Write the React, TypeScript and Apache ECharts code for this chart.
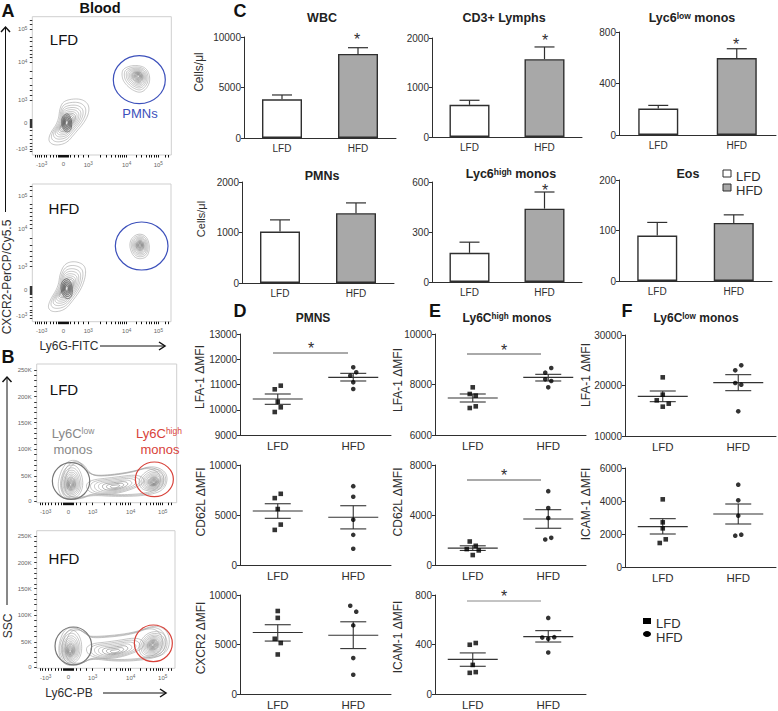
import React, { useEffect, useRef } from "react";
import * as echarts from "echarts";

const FONT = "'Liberation Sans', Arial, sans-serif";
const INK = "#2f2f2f";

const groups = ["LFD", "HFD"];

// ---- C: bar values, [LFD, HFD] ----
const wbcMeans = [3830, 8320];
const wbcUpper = [4260, 8940];
const cd3Means = [650, 1572];
const cd3Upper = [742, 1819];
const lowMeans = [205, 598];
const lowUpper = [230, 670];
const pmnMeans = [1020, 1382];
const pmnUpper = [1250, 1586];
const highMeans = [175, 440];
const highUpper = [239, 540];
const eosMeans = [90, 115];
const eosUpper = [116, 131];

// ---- D/E/F: dot values; columns give the dot's side-step within its group ----
const dLfaLfd = [10954, 10809, 10320, 10096, 9911];
const dLfaHfd = [11680, 11482, 11350, 11086, 10822];
const dLfaSummary = [[10426, 10624, 10215], [11284, 11442, 11139]];
const dCd62Lfd = [7119, 6689, 5596, 4040, 3510];
const dCd62Hfd = [7881, 6821, 4536, 3013, 1623];
const dCd62Summary = [[5397, 6126, 4669], [4768, 5927, 3609]];
const dCxcLfd = [8383, 7690, 5578, 5149, 3993];
const dCxcHfd = [8911, 8317, 6931, 3630, 1947];
const dCxcSummary = [[6205, 6997, 5347], [5941, 7294, 4587]];

const eLfaLfd = [7888, 7624, 7558, 7135, 7069];
const eLfaHfd = [8653, 8469, 8205, 8139, 7888];
const eLfaSummary = [[7465, 7624, 7307], [8284, 8403, 8139]];
const eCd62Lfd = [1881, 1536, 1272, 1166, 795];
const eCd62Hfd = [5907, 4556, 3762, 2172, 2040];
const eCd62Summary = [[1351, 1536, 1166], [3682, 4424, 2940]];
const eIcamLfd = [412, 398, 235, 177, 171];
const eIcamHfd = [615, 456, 459, 446, 335];
const eIcamSummary = [[280, 332, 224], [464, 512, 420]];

const fLfaLfd = [21617, 18185, 17063, 16403, 15809];
const fLfaHfd = [23993, 23003, 20495, 20165, 14884];
const fLfaSummary = [[17855, 18911, 16799], [20561, 22145, 18977]];
const fIcamLfd = [4101, 2707, 2343, 1677, 1455];
const fIcamHfd = [4990, 4040, 3111, 1960, 1899];
const fIcamSummary = [[2444, 2929, 2000], [3212, 3818, 2606]];

const colsD1Lfd = [1, -1, 0, 1, -1];
const colsD1Hfd = [0, 1, -1, 0, 0];
const colsD2Lfd = [1, -1, 0, 1, -1];
const colsD2Hfd = [0, 0, 0, 0, 0];
const colsD3Lfd = [0, 0, -1, 1, 0];
const colsD3Hfd = [-1, 1, 0, 0, 0];
const colsE1Lfd = [0, -1, 1, 1, -1];
const colsE1Hfd = [1, -1, -1, 1, 0];
const colsE2Lfd = [-1, 1, -2, 2, 0];
const colsE2Hfd = [0, 0, 0, 1, -1];
const colsE3Lfd = [1, -1, 0, 1, -1];
const colsE3Hfd = [0, -2, 2, 0, 0];
const colsF1Lfd = [0, 0, -2, 2, 0];
const colsF1Hfd = [1, -1, -1, 1, 0];
const colsF2Lfd = [0, 0, 0, 1, -1];
const colsF2Hfd = [0, 0, 0, 1, -1];

// ---- A/B: flow-cytometry axes (channel positions) ----
const aTicksX = [125, 190, 265, 380, 475];
const aTicksXMinor = [105, 112, 118, 132, 140, 150, 160, 168, 174, 178, 181, 184, 187, 193, 196, 199, 202, 206, 212, 222, 235, 250, 300, 318, 335, 346, 355, 362, 368, 374, 408, 425, 438, 448, 455, 462, 468, 495, 505];
const aTicksY = [88, 186, 300, 370, 447];
const aTicksYMinor = [60, 72, 112, 125, 138, 150, 162, 172, 215, 235, 255, 270, 285, 358, 361, 364, 367, 373, 376, 379, 382, 392, 405, 418, 430, 438, 455];
const bTicksX = [137, 205, 278, 392, 488];
const bTicksXMinor = [120, 128, 145, 155, 165, 175, 184, 190, 194, 197, 200, 202, 208, 210, 213, 216, 220, 228, 240, 258, 312, 332, 348, 360, 368, 376, 384, 420, 438, 450, 460, 468, 475, 482, 505, 515];
const bTicksY = [60, 140, 218, 298, 378, 453];
const bTicksYMinor = [76, 92, 108, 124, 156, 172, 188, 204, 234, 250, 266, 282, 314, 330, 346, 362, 394, 409, 424, 439];
const logLabels = ["-10{s|3}", "0", "10{s|3}", "10{s|4}", "10{s|5}"];
const logLabelsY = ["10{s|5}", "10{s|4}", "10{s|3}", "0", "-10{s|3}"];
const sscLabels = ["250K", "200K", "150K", "100K", "50K", "0"];

// ---- A/B: contour outlines and gates, in channel positions ----
const denseLevels = [1, 0.86, 0.74, 0.64, 0.55, 0.47, 0.4, 0.34, 0.28, 0.23, 0.18, 0.13, 0.08];
const outerLevels = [1, 0.94, 0.88];
const bridgeLevels = [1, 0.86, 0.72, 0.58, 0.44, 0.3, 0.16];
const coreLevels = [1, 0.8, 0.62, 0.46, 0.3];

const aTopLymph = [[145, 425], [150, 400], [175, 365], [180, 320], [195, 300], [240, 295], [265, 310], [268, 335], [255, 365], [225, 400], [200, 430], [165, 437]];
const aTopCore = [[186, 350], [203, 338], [216, 360], [214, 392], [197, 398], [184, 375]];
const aTopPmn = [[370, 205], [400, 195], [435, 200], [450, 225], [448, 255], [425, 280], [395, 270], [370, 245], [365, 222]];
const aBotLymph = [[143, 425], [150, 400], [175, 360], [180, 320], [195, 290], [225, 283], [255, 295], [258, 325], [245, 365], [220, 400], [195, 430], [160, 437]];
const aBotCore = [[184, 345], [203, 332], [218, 358], [216, 392], [197, 398], [182, 372]];
const aBotPmn = [[393, 215], [415, 200], [440, 208], [450, 240], [443, 270], [420, 278], [400, 270], [388, 240]];
const bTopOuter = [[262, 370], [300, 378], [400, 365], [460, 345], [505, 370], [495, 420], [440, 437], [350, 440], [270, 435], [240, 448], [185, 447], [170, 400], [195, 335], [235, 328]];
const bTopLeft = [[190, 440], [178, 400], [195, 350], [225, 342], [245, 370], [250, 410], [235, 440], [210, 447]];
const bTopBridge = [[255, 392], [340, 382], [420, 372], [440, 400], [350, 434], [265, 432]];
const bTopRight = [[415, 385], [450, 355], [485, 360], [500, 385], [490, 415], [450, 425], [420, 415]];
const bBotOuter = [[270, 364], [400, 352], [470, 324], [510, 352], [505, 412], [440, 432], [350, 437], [270, 427], [240, 447], [190, 449], [172, 402], [190, 340], [225, 332], [255, 352]];
const bBotLeft = [[190, 437], [175, 397], [195, 347], [225, 340], [245, 372], [245, 417], [225, 442], [205, 447]];
const bBotBridge = [[255, 385], [340, 376], [420, 362], [440, 395], [350, 430], [265, 424]];
const bBotRight = [[415, 382], [445, 347], [490, 347], [505, 382], [490, 417], [445, 427], [420, 417]];

const option: any = {
  animation: false,
  backgroundColor: "#fff",
  textStyle: { fontFamily: FONT },
  title: [],
  grid: [],
  xAxis: [],
  yAxis: [],
  series: [],
  graphic: { elements: [] },
};
const gfx: any[] = option.graphic.elements;

function label(text: string, x: number, y: number, size: number, extra: any = {}, rich?: any, rotation = 0) {
  gfx.push({
    type: "text",
    x,
    y,
    rotation,
    silent: true,
    style: {
      text,
      fontFamily: FONT,
      fontSize: size,
      fill: INK,
      align: "center",
      verticalAlign: "middle",
      rich,
      ...extra,
    },
  });
}

function vLabel(text: string, x: number, y: number, size: number) {
  label(text, x, y, size, {}, undefined, Math.PI / 2);
}

function star(x: number, y: number) {
  label("*", x, y + 3, 16);
}

function bracket(x1: number, x2: number, y: number, color = "#555") {
  gfx.push({
    type: "line",
    silent: true,
    shape: { x1, y1: y, x2, y2: y },
    style: { stroke: color, lineWidth: 1 },
  });
}

function supTitle(text: string, x: number, y: number, size = 12.5) {
  option.title.push({
    text,
    left: x,
    top: y - size / 2 - 1,
    textAlign: "center",
    padding: 0,
    textStyle: {
      fontFamily: FONT,
      fontSize: size,
      fontWeight: "bold",
      color: "#222",
      rich: {
        b: { fontFamily: FONT, fontSize: size, fontWeight: "bold", color: "#222" },
        s: { fontFamily: FONT, fontSize: size * 0.68, fontWeight: "bold", color: "#222", verticalAlign: "top", padding: [0, 0, 3, 0] },
      },
    },
  });
}

function baseAxes(box: number[], yMin: number, yMax: number, interval: number, xSize: number) {
  const idx = option.grid.length;
  option.grid.push({ left: box[0], top: box[1], width: box[2] - box[0], height: box[3] - box[1], containLabel: false });
  option.xAxis.push({
    gridIndex: idx,
    type: "category",
    data: groups,
    axisLine: { lineStyle: { color: INK, width: 1 } },
    axisTick: { alignWithLabel: true, length: 3, lineStyle: { color: INK } },
    axisLabel: { color: INK, fontSize: xSize, fontFamily: FONT, margin: 5 },
  });
  option.yAxis.push({
    gridIndex: idx,
    type: "value",
    min: yMin,
    max: yMax,
    interval,
    splitLine: { show: false },
    axisLine: { show: true, lineStyle: { color: INK, width: 1 } },
    axisTick: { show: true, length: 3, lineStyle: { color: INK } },
    axisLabel: { color: INK, fontSize: 10, fontFamily: FONT, margin: 3, showMinLabel: true, showMaxLabel: true, formatter: (v: number) => String(v) },
  });
  return idx;
}

function barPanel(box: number[], max: number, interval: number, means: number[], upper: number[]) {
  const idx = baseAxes(box, 0, max, interval, 10);
  option.series.push({
    type: "custom",
    xAxisIndex: idx,
    yAxisIndex: idx,
    z: 1,
    data: means.map((m, i) => [groups[i], m, upper[i]]),
    renderItem: (_: any, api: any) => {
      const base = api.coord([api.value(0), api.value(1)]);
      const top = api.coord([api.value(0), api.value(2)]);
      const s = { stroke: INK, lineWidth: 1.2 };
      return {
        type: "group",
        children: [
          { type: "line", shape: { x1: base[0], y1: base[1], x2: top[0], y2: top[1] }, style: s },
          { type: "line", shape: { x1: top[0] - 10, y1: top[1], x2: top[0] + 10, y2: top[1] }, style: s },
        ],
      };
    },
  });
  option.series.push({
    type: "bar",
    xAxisIndex: idx,
    yAxisIndex: idx,
    barWidth: 40,
    z: 2,
    data: means.map((v, i) => ({
      value: v,
      itemStyle: { color: i === 0 ? "#ffffff" : "#a8a8a8", borderColor: INK, borderWidth: 1.4 },
    })),
  });
}

function dotPanel(
  box: number[],
  yMin: number,
  yMax: number,
  interval: number,
  lfd: number[],
  lfdCols: number[],
  hfd: number[],
  hfdCols: number[],
  summary: number[][],
) {
  const idx = baseAxes(box, yMin, yMax, interval, 11.5);
  option.series.push({
    type: "custom",
    xAxisIndex: idx,
    yAxisIndex: idx,
    data: summary.map((s, i) => [groups[i], ...s]),
    renderItem: (_: any, api: any) => {
      const m = api.coord([api.value(0), api.value(1)]);
      const hi = api.coord([api.value(0), api.value(2)]);
      const lo = api.coord([api.value(0), api.value(3)]);
      const s = { stroke: "#333", lineWidth: 1.1 };
      const h = (y: number, half: number) => ({
        type: "line",
        shape: { x1: m[0] - half, y1: y, x2: m[0] + half, y2: y },
        style: s,
      });
      return {
        type: "group",
        children: [
          h(m[1], 25),
          h(hi[1], 13),
          h(lo[1], 13),
          { type: "line", shape: { x1: m[0], y1: hi[1], x2: m[0], y2: lo[1] }, style: s },
        ],
      };
    },
  });
  const dots = (vals: number[], cols: number[], g: string, symbol: string, size: number) => ({
    type: "scatter",
    xAxisIndex: idx,
    yAxisIndex: idx,
    symbol,
    symbolSize: size,
    itemStyle: { color: "#000" },
    data: vals.map((v, i) => ({ value: [g, v], symbolOffset: [cols[i] * 3, 0] })),
  });
  option.series.push(dots(lfd, lfdCols, "LFD", "rect", 4.6));
  option.series.push(dots(hfd, hfdCols, "HFD", "circle", 4.6));
}

// rounds a closed outline by repeated corner cutting
function rounded(points: number[][]) {
  let pts = points;
  for (let pass = 0; pass < 3; pass++) {
    const next: number[][] = [];
    pts.forEach((p, i) => {
      const q = pts[(i + 1) % pts.length];
      next.push([p[0] * 0.75 + q[0] * 0.25, p[1] * 0.75 + q[1] * 0.25]);
      next.push([p[0] * 0.25 + q[0] * 0.75, p[1] * 0.25 + q[1] * 0.75]);
    });
    pts = next;
  }
  return pts;
}

function flowPanel(
  box: number[],
  range: number[],
  xTicks: number[],
  xMinor: number[],
  xLabels: string[],
  yTicks: number[],
  yMinor: number[],
  yLabels: string[],
  contours: any[],
  gates: any[],
) {
  const idx = option.grid.length;
  option.grid.push({
    left: box[0],
    top: box[1],
    width: box[2],
    height: box[3],
    show: true,
    borderColor: "#cfcfcf",
    borderWidth: 1,
    backgroundColor: "#fff",
  });
  const xMap = new Map(xTicks.map((t, i) => [t, xLabels[i]]));
  const yMap = new Map(yTicks.map((t, i) => [t, yLabels[i]]));
  const rich = { s: { fontSize: 4.6, fontFamily: FONT, color: "#666", verticalAlign: "top", padding: [0, 0, 2, 0] } };
  const labelStyle = { color: "#666", fontSize: 6, fontFamily: FONT, rich };
  option.xAxis.push({
    gridIndex: idx,
    type: "value",
    min: range[0],
    max: range[1],
    splitLine: { show: false },
    axisLine: { show: false },
    axisTick: { show: true, length: 2.5, customValues: [...xTicks, ...xMinor], lineStyle: { color: "#111", width: 1 } },
    axisLabel: { ...labelStyle, margin: 6, customValues: xTicks, formatter: (v: number) => xMap.get(v) ?? "" },
  });
  option.yAxis.push({
    gridIndex: idx,
    type: "value",
    inverse: true,
    min: range[2],
    max: range[3],
    splitLine: { show: false },
    axisLine: { show: false },
    axisTick: { show: true, length: 2.5, customValues: [...yTicks, ...yMinor], lineStyle: { color: "#333", width: 1 } },
    axisLabel: { ...labelStyle, margin: 5, customValues: yTicks, formatter: (v: number) => yMap.get(v) ?? "" },
  });
  option.series.push({
    type: "custom",
    xAxisIndex: idx,
    yAxisIndex: idx,
    z: 2,
    silent: true,
    data: contours.map((c) => c.center),
    renderItem: (params: any, api: any) => {
      const c = contours[params.dataIndex];
      const ctr = api.coord(c.center);
      const pts = rounded(c.outline.map((p: number[]) => api.coord(p)));
      return {
        type: "group",
        children: c.levels.map((f: number) => ({
          type: "polygon",
          shape: {
            points: pts.map((p: number[]) => [ctr[0] + (p[0] - ctr[0]) * f, ctr[1] + (p[1] - ctr[1]) * f]),
          },
          style: { fill: "none", stroke: c.stroke ?? (f < 0.45 ? "#777777" : "#a0a0a0"), lineWidth: c.stroke ? 0.8 : 0.6 },
        })),
      };
    },
  });
  option.series.push({
    type: "custom",
    xAxisIndex: idx,
    yAxisIndex: idx,
    z: 3,
    silent: true,
    data: gates.map((g) => g.slice(0, 4)),
    renderItem: (params: any, api: any) => {
      const c = api.coord([api.value(0), api.value(1)]);
      const sz = api.size([api.value(2), api.value(3)]);
      return {
        type: "ellipse",
        shape: { cx: c[0], cy: c[1], rx: Math.abs(sz[0]), ry: Math.abs(sz[1]) },
        style: { fill: "none", stroke: gates[params.dataIndex][4], lineWidth: 1.2 },
      };
    },
  });
}

function arrowUp(x: number, y1: number, y2: number) {
  gfx.push({ type: "line", silent: true, shape: { x1: x, y1, x2: x, y2 }, style: { stroke: "#111", lineWidth: 1 } });
  gfx.push({
    type: "polyline",
    silent: true,
    shape: { points: [[x - 4.5, y1 + 5], [x, y1], [x + 4.5, y1 + 5]] },
    style: { stroke: "#111", lineWidth: 1.5, fill: "none" },
  });
}

function arrowRight(x1: number, x2: number, y: number) {
  gfx.push({ type: "line", silent: true, shape: { x1, y1: y, x2, y2: y }, style: { stroke: "#111", lineWidth: 1 } });
  gfx.push({
    type: "polyline",
    silent: true,
    shape: { points: [[x2 - 6, y - 4], [x2, y], [x2 - 6, y + 4]] },
    style: { stroke: "#111", lineWidth: 1.5, fill: "none" },
  });
}

// ---- A ----
const BLUE = "#3c50bb";
const RED = "#d8423a";
const GREY = "#777777";
const CORE = "#5a5a5a";
flowPanel([32.3, 16.7, 139, 138.3], [97, 514, 50, 465], aTicksX, aTicksXMinor, logLabels, aTicksY, aTicksYMinor, logLabelsY,
  [
    { outline: aTopLymph, center: [200, 368], levels: denseLevels },
    { outline: aTopCore, center: [200, 368], levels: coreLevels, stroke: CORE },
    { outline: aTopPmn, center: [415, 228], levels: denseLevels },
  ],
  [[418, 239, 78, 72, BLUE]],
);
flowPanel([32.3, 184, 138.7, 137.7], [97, 513, 52, 465], aTicksX, aTicksXMinor, logLabels, aTicksY, aTicksYMinor, logLabelsY,
  [
    { outline: aBotLymph, center: [200, 365], levels: denseLevels },
    { outline: aBotCore, center: [200, 365], levels: coreLevels, stroke: CORE },
    { outline: aBotPmn, center: [420, 235], levels: denseLevels },
  ],
  [[425, 238, 79, 72, BLUE]],
);
// ---- B ----
flowPanel([36.7, 364, 140, 138.7], [110, 530, 42, 458], bTicksX, bTicksXMinor, logLabels, bTicksY, bTicksYMinor, sscLabels,
  [
    { outline: bTopOuter, center: [335, 395], levels: outerLevels },
    { outline: bTopBridge, center: [345, 410], levels: bridgeLevels },
    { outline: bTopLeft, center: [212, 405], levels: denseLevels },
    { outline: bTopRight, center: [462, 397], levels: denseLevels },
  ],
  [[213, 393, 56, 55, GREY], [463, 388, 57, 52, RED]],
);
flowPanel([36.7, 530.7, 138.3, 137.6], [110, 525, 44, 457], bTicksX, bTicksXMinor, logLabels, bTicksY, bTicksYMinor, sscLabels,
  [
    { outline: bBotOuter, center: [335, 395], levels: outerLevels },
    { outline: bBotBridge, center: [345, 407], levels: bridgeLevels },
    { outline: bBotLeft, center: [210, 407], levels: denseLevels },
    { outline: bBotRight, center: [458, 387], levels: denseLevels },
  ],
  [[220, 390, 55, 57, GREY], [460, 382, 57, 55, RED]],
);

// ---- C ----
barPanel([244, 37, 396, 138], 10000, 5000, wbcMeans, wbcUpper);
barPanel([432, 38, 582, 137], 2000, 1000, cd3Means, cd3Upper);
barPanel([619, 32, 776, 135], 800, 400, lowMeans, lowUpper);
barPanel([242, 182, 394, 283], 2000, 1000, pmnMeans, pmnUpper);
barPanel([432, 182, 582, 282], 600, 300, highMeans, highUpper);
barPanel([619, 180, 772, 281], 200, 100, eosMeans, eosUpper);

// ---- D ----
dotPanel([240, 334, 391, 435], 9000, 13000, 1000, dLfaLfd, colsD1Lfd, dLfaHfd, colsD1Hfd, dLfaSummary);
dotPanel([240, 465, 391, 565], 0, 10000, 5000, dCd62Lfd, colsD2Lfd, dCd62Hfd, colsD2Hfd, dCd62Summary);
dotPanel([240, 595, 391, 696], 0, 10000, 5000, dCxcLfd, colsD3Lfd, dCxcHfd, colsD3Hfd, dCxcSummary);
// ---- E ----
dotPanel([435, 334, 586, 435], 6000, 10000, 2000, eLfaLfd, colsE1Lfd, eLfaHfd, colsE1Hfd, eLfaSummary);
dotPanel([435, 465, 586, 565], 0, 8000, 4000, eCd62Lfd, colsE2Lfd, eCd62Hfd, colsE2Hfd, eCd62Summary);
dotPanel([435, 595, 586, 696], 0, 800, 400, eIcamLfd, colsE3Lfd, eIcamHfd, colsE3Hfd, eIcamSummary);
// ---- F ----
dotPanel([625, 335, 776, 436], 10000, 30000, 10000, fLfaLfd, colsF1Lfd, fLfaHfd, colsF1Hfd, fLfaSummary);
dotPanel([625, 468, 776, 567], 0, 6000, 2000, fIcamLfd, colsF2Lfd, fIcamHfd, colsF2Hfd, fIcamSummary);

// ---- panel letters ----
const bold18 = { fontWeight: "bold", fill: "#111" };
label("A", 8, 11, 18, bold18);
label("B", 8, 357, 18, bold18);
label("C", 240, 11, 18, bold18);
label("D", 240, 311, 18, bold18);
label("E", 435, 311, 18, bold18);
label("F", 627, 311, 18, bold18);
label("Blood", 100, 7.5, 14.5, { fontWeight: "bold", fill: "#111" });

// ---- flow annotations ----
label("LFD", 64, 39, 15, { fill: "#111" });
label("HFD", 64, 208, 15, { fill: "#111" });
label("PMNs", 140, 113, 13, { fill: BLUE });
label("LFD", 64, 389, 15, { fill: "#111" });
label("HFD", 64, 558, 15, { fill: "#111" });
const supGrey = { s: { fontSize: 8.5, fontFamily: FONT, fill: "#888", verticalAlign: "top", padding: [0, 0, 4, 0] }, b: { fontSize: 13, fontFamily: FONT, fill: "#888" } };
const supRed = { s: { fontSize: 8.5, fontFamily: FONT, fill: RED, verticalAlign: "top", padding: [0, 0, 4, 0] }, b: { fontSize: 13, fontFamily: FONT, fill: RED } };
label("{b|Ly6C}{s|low}", 73, 433, 13, { fill: "#888" }, supGrey);
label("monos", 73, 449, 13, { fill: "#888" });
label("{b|Ly6C}{s|high}", 159, 433, 13, { fill: RED }, supRed);
label("monos", 160, 449, 13, { fill: RED });

vLabel("CXCR2-PerCP/Cy5.5", 7, 277, 12);
label("Ly6G-FITC", 69, 346, 12);
arrowUp(5.5, 27, 212);
arrowRight(100, 165, 346);
vLabel("SSC", 8, 626, 12);
label("Ly6C-PB", 69, 693, 12);
arrowUp(7, 377, 605);
arrowRight(103, 166, 693);

// ---- titles ----
supTitle("WBC", 322, 19);
supTitle("CD3+ Lymphs", 504, 19);
supTitle("{b|Lyc6}{s|low}{b| monos}", 692, 19);
supTitle("PMNs", 322, 177);
supTitle("{b|Lyc6}{s|high}{b| monos}", 511, 175);
supTitle("Eos", 688, 175);
supTitle("PMNS", 313, 319, 12);
supTitle("{b|Ly6C}{s|high}{b| monos}", 507, 319, 12);
supTitle("{b|Ly6C}{s|low}{b| monos}", 696, 319, 12);

// ---- y names ----
vLabel("Cells/μl", 199, 72, 12);
vLabel("Cells/μl", 201, 219, 11);
vLabel("LFA-1 ΔMFI", 200, 377, 12);
vLabel("CD62L ΔMFI", 201, 502, 12);
vLabel("CXCR2 ΔMFI", 201, 638, 12);
vLabel("LFA-1 ΔMFI", 398, 380, 12);
vLabel("CD62L ΔMFI", 398, 502, 12);
vLabel("ICAM-1 ΔMFI", 398, 637, 12);
vLabel("LFA-1 ΔMFI", 586, 375, 12);
vLabel("ICAM-1 ΔMFI", 586, 504, 12);

// ---- significance ----
star(357, 36.5);
star(545, 37);
star(736, 41);
star(545, 187);
star(311, 345);
star(504, 347);
star(504, 472);
star(504, 593);
bracket(273, 348, 353);
bracket(467, 541, 354);
bracket(467, 541, 480);
bracket(467, 541, 601, "#888");

// ---- legends ----
gfx.push({ type: "rect", silent: true, shape: { x: 723, y: 170, width: 8, height: 7 }, style: { fill: "#fff", stroke: INK, lineWidth: 1 } });
gfx.push({ type: "rect", silent: true, shape: { x: 723, y: 184, width: 8, height: 7 }, style: { fill: "#a8a8a8", stroke: INK, lineWidth: 1 } });
label("LFD", 736, 176, 13, { align: "left" });
label("HFD", 736, 190, 13, { align: "left" });
gfx.push({ type: "rect", silent: true, shape: { x: 643, y: 618, width: 8, height: 6 }, style: { fill: "#000" } });
gfx.push({ type: "ellipse", silent: true, shape: { cx: 647, cy: 634, rx: 4, ry: 3 }, style: { fill: "#000" } });
label("LFD", 656, 623, 13, { align: "left" });
label("HFD", 656, 637, 13, { align: "left" });

export default function App() {
  const ref = useRef<HTMLDivElement>(null);
  useEffect(() => {
    const chart = echarts.init(ref.current!, undefined, { renderer: "svg" });
    chart.setOption(option);
    return () => chart.dispose();
  }, []);
  return <div ref={ref} style={{ position: "absolute", left: 0, top: 0, width: 778, height: 711 }} />;
}
